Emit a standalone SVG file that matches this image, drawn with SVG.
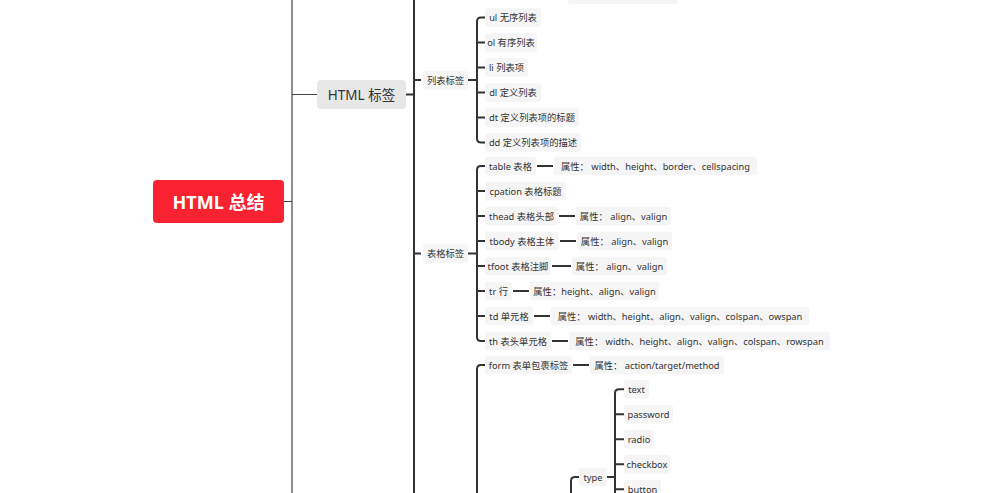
<svg xmlns="http://www.w3.org/2000/svg" width="981" height="493" viewBox="0 0 981 493">
<style>
text{font-family:"Noto Sans","Noto Sans CJK SC",sans-serif;fill:#333;dominant-baseline:central;text-anchor:middle}
.s{font-size:9.3px}
.b{fill:#f5f5f5}
.ln{fill:none;stroke:#333;stroke-width:2}
.thin{fill:none;stroke:#444;stroke-width:1.2}
</style>
<rect width="981" height="493" fill="#fff"/>
<g id="connectors">
<path class="thin" d="M292,0V493M284,201.5H292M292,94.5H317"/>
<path class="ln" d="M406,94.5H414M414,0V493M414,80H421M414,253.5H421"/>
<path class="ln" d="M468,80H477M485,17.5H481Q477,17.5 477,21.5V138.5Q477,142.5 481,142.5H485M477,42.5H485M477,67.5H485M477,92.5H485M477,117.5H485"/>
<path class="ln" d="M468,253.5H477M485,166H481Q477,166 477,170V337Q477,341 481,341H485M477,191H485M477,216H485M477,241H485M477,266H485M477,291H485M477,316H485"/>
<path class="ln" d="M537,166H553M559,216H575M560,241H576M552,266H571M513,291H529M534,316H550M552,341H568"/>
<path class="ln" d="M485,365H481Q477,365 477,369V493M573,365H589"/>
<path class="ln" d="M579,477H575Q571,477 571,481V493M607,477H615M624,389.3H619Q615,389.3 615,393.3V493M615,414.3H624M615,439.3H624M615,464.3H624M615,489.3H624"/>
</g>
<g id="root">
<rect x="153" y="180" width="131" height="43" rx="4" fill="#f82230"/>
<text x="218.5" y="201.5" style="font-size:18px;font-weight:bold;fill:#fff">HTML 总结</text>
</g>
<g id="n-html-tags">
<rect x="317" y="80" width="89" height="29" rx="4" fill="#e7e7e7"/>
<text x="361.5" y="94.5" style="font-size:13.5px">HTML 标签</text>
</g>
<g id="n-top-partial"><rect class="b" x="568" y="-15" width="109" height="19" rx="3"/></g>
<g id="n-list"><rect class="b" x="423" y="71" width="45" height="18.5" rx="3"/><text class="s" x="445.5" y="80">列表标签</text></g>
<g id="n-ul"><rect class="b" x="485" y="8.3" width="56" height="18.5" rx="3"/><text class="s" x="513" y="17.5">ul 无序列表</text></g>
<g id="n-ol"><rect class="b" x="485" y="33.3" width="52" height="18.5" rx="3"/><text class="s" x="511" y="42.5">ol 有序列表</text></g>
<g id="n-li"><rect class="b" x="485" y="58.3" width="43" height="18.5" rx="3"/><text class="s" x="506.5" y="67.5">li 列表项</text></g>
<g id="n-dl"><rect class="b" x="485" y="83.3" width="56" height="18.5" rx="3"/><text class="s" x="513" y="92.5">dl 定义列表</text></g>
<g id="n-dt"><rect class="b" x="485" y="108.3" width="94" height="18.5" rx="3"/><text class="s" x="532" y="117.5">dt 定义列表项的标题</text></g>
<g id="n-dd"><rect class="b" x="485" y="133.3" width="96" height="18.5" rx="3"/><text class="s" x="533" y="142.5">dd 定义列表项的描述</text></g>
<g id="n-table-tags"><rect class="b" x="423" y="244.3" width="45" height="18.5" rx="3"/><text class="s" x="445.5" y="253.5">表格标签</text></g>
<g id="n-table"><rect class="b" x="485" y="156.8" width="51" height="18.5" rx="3"/><text class="s" x="510.5" y="166">table 表格</text></g>
<g id="n-table-attr"><rect class="b" x="554" y="156.8" width="203" height="18.5" rx="3"/><text class="s" x="655.5" y="166">属性： width、height、border、cellspacing</text></g>
<g id="n-caption"><rect class="b" x="485" y="181.8" width="81" height="18.5" rx="3"/><text class="s" x="525.5" y="191">cpation 表格标题</text></g>
<g id="n-thead"><rect class="b" x="485" y="206.8" width="73" height="18.5" rx="3"/><text class="s" x="521.5" y="216">thead 表格头部</text></g>
<g id="n-thead-attr"><rect class="b" x="576" y="206.8" width="95" height="18.5" rx="3"/><text class="s" x="623.5" y="216">属性： align、valign</text></g>
<g id="n-tbody"><rect class="b" x="485" y="231.8" width="74" height="18.5" rx="3"/><text class="s" x="522" y="241">tbody 表格主体</text></g>
<g id="n-tbody-attr"><rect class="b" x="577" y="231.8" width="95" height="18.5" rx="3"/><text class="s" x="624.5" y="241">属性： align、valign</text></g>
<g id="n-tfoot"><rect class="b" x="485" y="256.8" width="66" height="18.5" rx="3"/><text class="s" x="518" y="266">tfoot 表格注脚</text></g>
<g id="n-tfoot-attr"><rect class="b" x="572" y="256.8" width="95" height="18.5" rx="3"/><text class="s" x="619.5" y="266">属性： align、valign</text></g>
<g id="n-tr"><rect class="b" x="485" y="281.8" width="27" height="18.5" rx="3"/><text class="s" x="498.5" y="291">tr 行</text></g>
<g id="n-tr-attr"><rect class="b" x="530" y="281.8" width="129" height="18.5" rx="3"/><text class="s" x="594.5" y="291">属性：height、align、valign</text></g>
<g id="n-td"><rect class="b" x="485" y="306.8" width="48" height="18.5" rx="3"/><text class="s" x="509" y="316">td 单元格</text></g>
<g id="n-td-attr"><rect class="b" x="551" y="306.8" width="258" height="18.5" rx="3"/><text class="s" x="680" y="316">属性： width、height、align、valign、colspan、owspan</text></g>
<g id="n-th"><rect class="b" x="485" y="331.8" width="66" height="18.5" rx="3"/><text class="s" x="518" y="341">th 表头单元格</text></g>
<g id="n-th-attr"><rect class="b" x="569" y="331.8" width="261" height="18.5" rx="3"/><text class="s" x="699.5" y="341">属性： width、height、align、valign、colspan、rowspan</text></g>
<g id="n-form"><rect class="b" x="485" y="355.8" width="87" height="18.5" rx="3"/><text class="s" x="528.5" y="365">form 表单包裹标签</text></g>
<g id="n-form-attr"><rect class="b" x="590" y="355.8" width="134" height="18.5" rx="3"/><text class="s" x="657" y="365">属性： action/target/method</text></g>
<g id="n-type"><rect class="b" x="579" y="467.8" width="28" height="18.5" rx="3"/><text class="s" x="593" y="477">type</text></g>
<g id="n-text"><rect class="b" x="624" y="380" width="25" height="18.5" rx="3"/><text class="s" x="636.5" y="389.3">text</text></g>
<g id="n-password"><rect class="b" x="624" y="405" width="49" height="18.5" rx="3"/><text class="s" x="648.5" y="414.3">password</text></g>
<g id="n-radio"><rect class="b" x="624" y="430" width="30" height="18.5" rx="3"/><text class="s" x="639" y="439.3">radio</text></g>
<g id="n-checkbox"><rect class="b" x="624" y="455" width="46" height="18.5" rx="3"/><text class="s" x="647" y="464.3">checkbox</text></g>
<g id="n-button"><rect class="b" x="624" y="480" width="37" height="18.5" rx="3"/><text class="s" x="642.5" y="489.3">button</text></g>
</svg>
